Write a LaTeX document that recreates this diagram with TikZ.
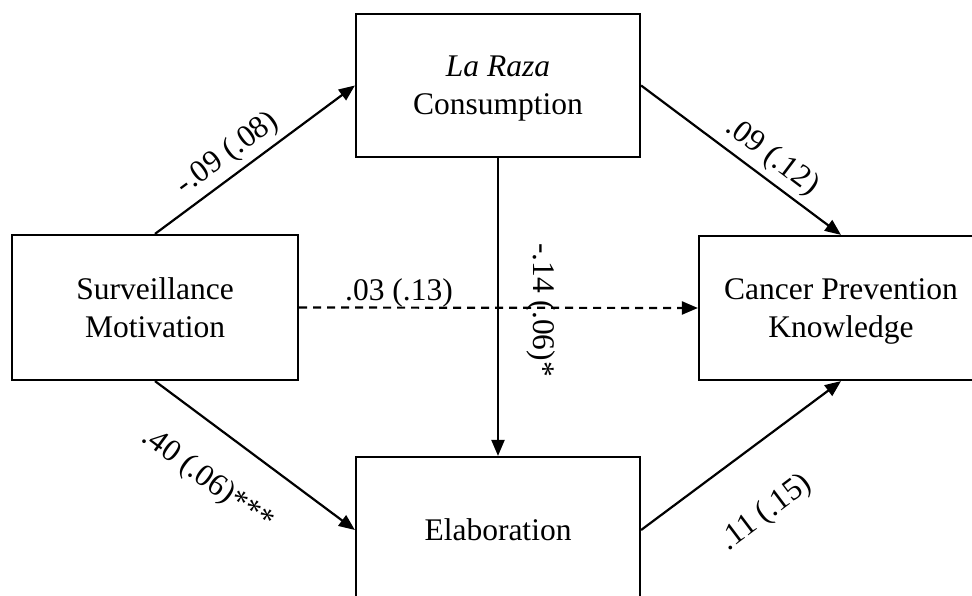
\documentclass[tikz,border=0pt]{standalone}
\usepackage{fontspec}
\setmainfont{Liberation Serif}
\usetikzlibrary{arrows.meta}

\tikzset{
  var/.style={draw, line width=2.2pt, inner sep=0pt, minimum width=284pt,
    align=center, text depth=0pt, font=\fontsize{31.5}{37.8}\selectfont},
  path/.style={line width=2.2pt, -{Triangle[length=16pt,width=13pt]}},
  coef/.style={font=\fontsize{31.5}{37.8}\selectfont, inner sep=0pt}
}

\begin{document}
\begin{tikzpicture}[x=1pt, y=-1pt]
  \useasboundingbox (0,0) rectangle (972,596);
  \clip (0,0) rectangle (972,596);

  % variables
  \node[var, minimum height=143pt] (laraza) at (498,85.5) {\textit{La Raza}\\Consumption};
  \node[var, minimum width=286pt, minimum height=145pt] (surv) at (155,307.5) {Surveillance\\Motivation};
  \node[var, minimum height=144pt] (cancer) at (841,308) {Cancer Prevention\\Knowledge};
  \node[var, minimum height=146pt] (elab) at (498,530) {Elaboration};

  % paths
  \draw[path] (surv.north) -- (laraza.west);
  \draw[path] (laraza.east) -- (cancer.north);
  \draw[path] (surv.south) -- (elab.west);
  \draw[path] (elab.east) -- (cancer.south);
  \draw[path] (laraza.south) -- (elab.north);
  \draw[path, dash pattern=on 8pt off 6pt] (surv.east) -- (cancer.west);

  % coefficients
  \node[coef, rotate=36.4] (c1) at (228,154) {-.09 (.08)};
  \node[coef, rotate=-37] (c2) at (772,157) {.09 (.12)};
  \node[coef, rotate=-36.4] (c3) at (207,480) {.40 (.06)***};
  \node[coef, rotate=37] (c4) at (766,513) {.11 (.15)};
  \node[coef, rotate=-90] (c5) at (541,310) {-.14 (.06)*};
  \node[coef] (c6) at (399,293) {.03 (.13)};
\end{tikzpicture}
\end{document}
